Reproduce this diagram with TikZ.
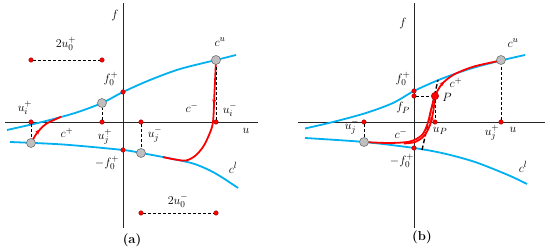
\documentclass[tikz,border=0pt]{standalone}
\usetikzlibrary{arrows.meta,decorations.markings}
\definecolor{envblue}{RGB}{0,176,240}
\begin{document}
\begin{tikzpicture}
[x=1pt, y=1pt, font=\fontsize{13}{15}\selectfont, inner sep=1pt]
\tikzstyle{dot}=[circle, draw=red!60!black, fill=red, inner sep=0mm, minimum size=4.5pt]
\tikzstyle{bigdot}=[circle, draw=red!70!black, fill=red, inner sep=0mm, minimum size=7.5pt]
\tikzstyle{turn}=[circle, draw=black!55, fill=black!25, line width=0.6pt, inner sep=0mm, minimum size=9pt]
\tikzstyle{axis}=[black!85, line width=0.8pt]
\tikzstyle{branch}=[envblue, line width=1.8pt]
\tikzstyle{loop}=[red, line width=1.8pt, postaction={decorate}]
\tikzstyle{guide}=[black, line width=0.8pt, dash pattern=on 3pt off 2pt]
\tikzstyle{tangent}=[black, line width=1.4pt, dash pattern=on 4.5pt off 2.5pt]
\useasboundingbox (0,0) rectangle (550,251);

% ---------------- panel (a)
\begin{scope}[shift={(123,129)}]
\coordinate (aFbot) at (0,-106);
\coordinate (aFtop) at (0,119);
\coordinate (aUl)   at (-118,0);
\coordinate (aUr)   at (135,0);
\draw[axis] (aFbot)--(aFtop);
\draw[axis] (aUl)--(aUr);
\node (aFlab) at (-8,106) {$f$};
\node (aUlab) at (123,-9) {$u$};

\draw[branch] plot[smooth] coordinates {(-116,-8) (-81,0) (-48,9) (-21,19) (0,30) (27,42) (57,53) (93,62) (113,67)};
\draw[branch] plot[smooth] coordinates {(-113,-20) (-60,-22.5) (0,-28) (18,-31) (45,-36) (70,-41.5) (87,-48.5) (100,-56) (115,-66)};

\draw[loop, decoration={markings, mark=at position 0.4 with {\arrow{Stealth[length=5pt,width=4pt]}}}]
  plot[smooth] coordinates {(-92,-21) (-86,-11) (-77,-2) (-62,5.2)};
\draw[loop, decoration={markings, mark=at position 0.33 with {\arrow{Stealth[length=5pt,width=4pt]}}}]
  plot[smooth] coordinates {(93,62) (91.5,30) (90,0) (86,-13) (80,-25) (72,-34) (63,-38.5) (52,-37.5) (40,-35.1)};

\node[dot]  (aUip) at (-92,0)   {};
\node[dot]  (aUjp) at (-21,0)   {};
\node[dot]  (aUjm) at (18,0)    {};
\node[dot]  (aUim) at (93,0)    {};
\node[dot]  (aF0)  at (0,30)    {};
\node[dot]  (aMF0) at (0,-28)   {};
\node[turn] (aTip) at (-92,-21) {};
\node[turn] (aTjp) at (-21,19)  {};
\node[turn] (aTjm) at (18,-31)  {};
\node[turn] (aTim) at (93,62)   {};
\node[dot]  (aLp1) at (-92,62)  {};
\node[dot]  (aLp2) at (-21,62)  {};
\node[dot]  (aLm1) at (18,-91)  {};
\node[dot]  (aLm2) at (93,-91)  {};

\draw[guide] (aUip)--(aTip);
\draw[guide] (aUjp)--(aTjp);
\draw[guide] (aUjm)--(aTjm);
\draw[guide] (aUim)--(aTim);
\draw[guide] (aLp1)--(aLp2);
\draw[guide] (aLm1)--(aLm2);

\node (aWp)  at (-57,78)  {$2u_0^+$};
\node (aWm)  at (55,-79)  {$2u_0^-$};
\node (aLip) at (-98,14)  {$u_i^+$};
\node (aLjp) at (-18,-15) {$u_j^+$};
\node (aLjm) at (32,-13)  {$u_j^-$};
\node (aLim) at (107,12)  {$u_i^-$};
\node (aLf)  at (-12,43)  {$f_0^+$};
\node (aLmf) at (-16,-41) {$-f_0^+$};
\node (aLcp) at (-56,-11) {$c^+$};
\node (aLcm) at (69,14)   {$c^-$};
\node (aLcu) at (97,80)   {$c^u$};
\node (aLcl) at (110,-46) {$c^l$};
\node (aCap) at (9,-118)  {\textbf{(a)}};
\end{scope}

% ---------------- panel (b)
\begin{scope}[shift={(414,129)}]
\coordinate (bFbot) at (0,-106);
\coordinate (bFtop) at (0,119);
\coordinate (bUl)   at (-116,0);
\coordinate (bUr)   at (131,0);
\draw[axis] (bFbot)--(bFtop);
\draw[axis] (bUl)--(bUr);
\node (bFlab) at (-11,98) {$f$};
\node (bUlab) at (99,-8)  {$u$};

\draw[branch] plot[smooth] coordinates {(-109,-6.5) (-81,0) (-48,9) (-21,19) (0,31) (27,43) (57,53.5) (87,61.5) (111,67)};
\draw[branch] plot[smooth] coordinates {(-109,-16) (-50,-20) (0,-26) (30,-31.5) (61,-40) (94,-53) (113,-62)};

\coordinate (bT1) at (8,-28);
\coordinate (bT2) at (24,42);
\draw[tangent] (bT1)--(bT2);

\draw[loop, decoration={markings, mark=at position 0.66 with {\arrow{Stealth[length=5pt,width=4pt]}}}]
  plot[smooth] coordinates {(-50,-20) (-25,-21) (-4,-19.5) (8,-13) (13.5,-2) (17,12) (21,26) (28,38) (40,47.5) (60,55.5) (87,61.5)};
\draw[loop, decoration={markings, mark=at position 0.42 with {\arrow{Stealth[length=5pt,width=4pt]}}}]
  plot[smooth] coordinates {(21,26) (19.5,12) (16,-3) (10,-14) (1,-20) (-10,-21.5)};

\node[dot]    (bUjm) at (-50,0)   {};
\node[dot]    (bUp)  at (21,0)    {};
\node[dot]    (bUjp) at (87,0)    {};
\node[dot]    (bF0)  at (0,31)    {};
\node[dot]    (bFp)  at (0,26)    {};
\node[dot]    (bMF0) at (0,-26)   {};
\node[turn]   (bTjm) at (-50,-20) {};
\node[turn]   (bTjp) at (87,62)   {};
\node[bigdot] (bP)   at (21,26)   {};

\draw[guide] (bUjm)--(bTjm);
\draw[guide] (bUjp)--(bTjp);
\draw[guide] (bFp)--(bP);
\draw[guide, line width=0.6pt] (bP)--(bUp);

\node (bLf)  at (-11,43)  {$f_0^+$};
\node (bLfp) at (-11,14)  {$f_P$};
\node (bLP)  at (33,25)   {$P$};
\node (bLcp) at (42,39)   {$c^+$};
\node (bLcu) at (99,79)   {$c^u$};
\node (bLjm) at (-62,-5)  {$u_j^-$};
\node (bLcm) at (-13,-12) {$c^-$};
\node (bLup) at (26,-9)   {$u_P$};
\node (bLjp) at (78,-11)  {$u_j^+$};
\node (bLmf) at (-12,-39) {$-f_0^+$};
\node (bLcl) at (109,-45) {$c^l$};
\node (bCap) at (8,-115)  {\textbf{(b)}};
\end{scope}
\end{tikzpicture}
\end{document}
